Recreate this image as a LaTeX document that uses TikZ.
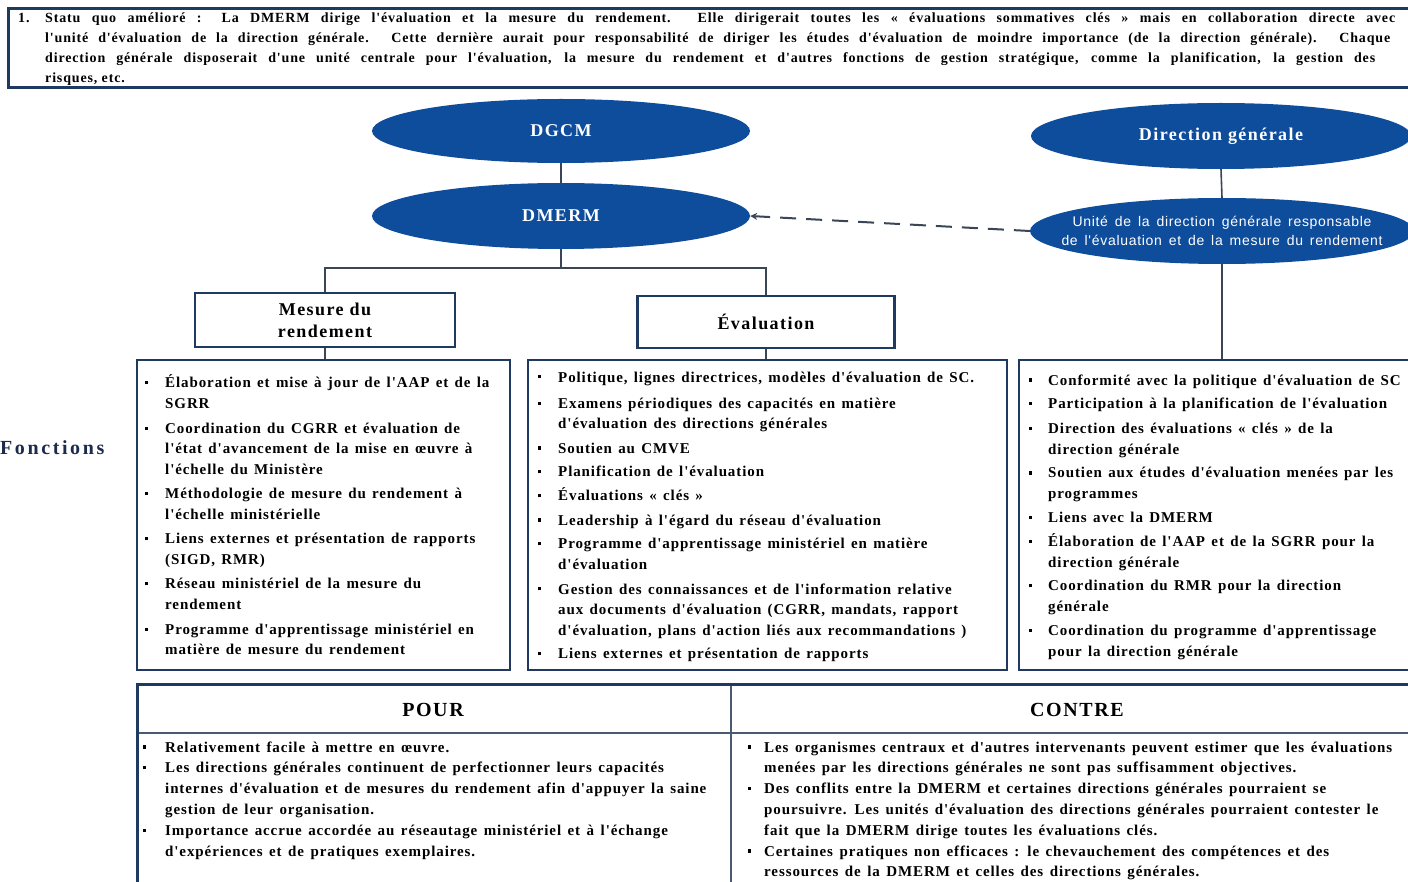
\documentclass[tikz,border=0pt]{standalone}
\usepackage{fontspec}
\setmainfont{Liberation Serif}
\newfontfamily\listfont[LetterSpace=6]{Liberation Serif}
\newfontfamily\topfont[LetterSpace=6]{Liberation Serif}
\newfontfamily\headfont[LetterSpace=8]{Liberation Serif}
\newfontfamily\foncfont[LetterSpace=13]{Liberation Serif}
\newfontfamily\unitfont[LetterSpace=5,WordSpace=1.5]{Liberation Sans}
\usetikzlibrary{shapes.geometric,arrows.meta}
\definecolor{ellblue}{HTML}{0E4C9C}
\definecolor{navy}{HTML}{1F3A60}
\definecolor{conncol}{HTML}{3A4656}
\definecolor{gridcol}{HTML}{4A5A70}
\definecolor{fonccol}{HTML}{1C2B4B}
\newcommand{\mybul}{\raisebox{3.5pt}{\rule{3.2pt}{3.2pt}}}
\newcommand{\listsetup}{\listfont\bfseries\fontsize{15}{20.5}\selectfont\spaceskip 6.3pt plus 1pt minus 1pt\relax}
\newcommand{\tabsetup}{\listfont\bfseries\fontsize{15}{20.8}\selectfont\spaceskip 6.5pt plus 1pt minus 1pt\relax}
\tikzset{
  ell/.style={ellipse, fill=ellblue, draw=none, inner sep=0pt, text=white},
  headbox/.style={draw=navy, line width=2.6pt, fill=white, inner sep=0pt, align=center,
    font=\headfont\bfseries\fontsize{18}{22}\selectfont},
  listbox/.style={draw=navy, line width=2.6pt, inner sep=0pt},
  conn/.style={draw=conncol, line width=1.6pt},
  listtext/.style={anchor=base west, inner sep=0pt, font=\listsetup},
  tabtext/.style={anchor=base west, inner sep=0pt, font=\tabsetup}
}
\begin{document}
\begin{tikzpicture}[x=1pt,y=-1pt]
\useasboundingbox (0,0) rectangle (1408,882);
\fill[white] (0,0) rectangle (1408,882);

% top statement box
\draw[navy, line width=3pt] (8,9) rectangle (1430,88);
\node[anchor=base west, inner sep=0pt, font=\topfont\bfseries\fontsize{14}{20}\selectfont] (num) at (18,23) {1.};
\node[anchor=base west, inner sep=0pt, font=\topfont\bfseries\fontsize{14}{20}\selectfont] (intro) at (45,23) {\begin{tabular}[t]{@{}l@{}}
\makebox[1350pt][s]{Statu quo amélioré : La DMERM dirige l'évaluation et la mesure du rendement. Elle dirigerait toutes les « évaluations sommatives clés » mais en collaboration directe avec}\\
\makebox[1345pt][s]{l'unité d'évaluation de la direction générale. Cette dernière aurait pour responsabilité de diriger les études d'évaluation de moindre importance (de la direction générale). Chaque}\\
\makebox[1330pt][s]{direction générale disposerait d'une unité centrale pour l'évaluation, la mesure du rendement et d'autres fonctions de gestion stratégique, comme la planification, la gestion des}\\
risques, etc.
\end{tabular}};

% ellipses
\node[ell, minimum width=378pt, minimum height=64pt, font=\headfont\bfseries\fontsize{18}{22}\selectfont] (dgcm) at (561,131) {DGCM};
\node[ell, minimum width=378pt, minimum height=66pt, font=\headfont\bfseries\fontsize{18}{22}\selectfont] (dmerm) at (561,216) {DMERM};
\node[ell, minimum width=380pt, minimum height=66pt, font=\headfont\bfseries\fontsize{18}{22}\selectfont] (dg) at (1221,136) {Direction générale};
\node[ell, minimum width=384pt, minimum height=66pt] (unit) at (1222,231) {};
\node[inner sep=0pt, text=white, align=center, font=\unitfont\fontsize{14}{19}\selectfont] (unittxt) at (unit.center) {Unité de la direction générale responsable\\de l'évaluation et de la mesure du rendement};

% header boxes
\node[headbox, minimum width=260pt, minimum height=54pt] (mes) at (325,320) {Mesure du\\rendement};
\node[headbox, minimum width=257pt, minimum height=52pt] (eva) at (766,322) {Évaluation};

% list boxes
\node[listbox, minimum width=373pt, minimum height=310pt] (lbox) at (323.5,515) {};
\node[listbox, minimum width=479pt, minimum height=310pt] (mbox) at (767.5,515) {};
\node[listbox, minimum width=396pt, minimum height=310pt] (rbox) at (1217,515) {};

% connectors
\coordinate (jn) at (561,268);
\draw[conn] (dgcm.south) -- (dmerm.north);
\draw[conn] (dmerm.south) -- (jn);
\draw[conn] (mes.north) |- (jn) -| (eva.north);
\draw[conn] (mes.south) -- (lbox.north -| mes.south);
\draw[conn] (eva.south) -- (mbox.north -| eva.south);
\draw[conn] (dg.south) -- (unit.north);
\draw[conn] (unit.south) -- (unit.south |- rbox.north);
\draw[conn, line width=2pt, dash pattern=on 16pt off 10pt, -{Stealth[length=7pt,width=7pt]}] (unit.west) -- (dmerm.east);

% Fonctions label
\node[anchor=west, inner sep=0pt, text=fonccol, font=\foncfont\bfseries\fontsize{20}{22}\selectfont] (fonc) at (0,448) {Fonctions};

% left list
\node[listtext] (ltext) at (145,388) {\begin{tabular}[t]{@{}p{20pt}@{}l@{}}
\mybul & Élaboration et mise à jour de l'AAP et de la\\
 & SGRR\\[4.5pt]
\mybul & Coordination du CGRR et évaluation de\\
 & l'état d'avancement de la mise en œuvre à\\
 & l'échelle du Ministère\\[4pt]
\mybul & Méthodologie de mesure du rendement à\\
 & l'échelle ministérielle\\[4pt]
\mybul & Liens externes et présentation de rapports\\
 & (SIGD, RMR)\\[4pt]
\mybul & Réseau ministériel de la mesure du\\
 & rendement\\[4.5pt]
\mybul & Programme d'apprentissage ministériel en\\
 & matière de mesure du rendement
\end{tabular}};

% middle list
\node[listtext] (mtext) at (538,382) {\begin{tabular}[t]{@{}p{20pt}@{}l@{}}
\mybul & Politique, lignes directrices, modèles d'évaluation de SC.\\[6pt]
\mybul & Examens périodiques des capacités en matière\\
 & d'évaluation des directions générales\\[3.5pt]
\mybul & Soutien au CMVE\\[3.5pt]
\mybul & Planification de l'évaluation\\[3.5pt]
\mybul & Évaluations « clés »\\[3.5pt]
\mybul & Leadership à l'égard du réseau d'évaluation\\[3.5pt]
\mybul & Programme d'apprentissage ministériel en matière\\
 & d'évaluation\\[4pt]
\mybul & Gestion des connaissances et de l'information relative\\
 & aux documents d'évaluation (CGRR, mandats, rapport\\
 & d'évaluation, plans d'action liés aux recommandations )\\[3.5pt]
\mybul & Liens externes et présentation de rapports
\end{tabular}};

% right list
\node[listtext] (rtext) at (1029,385) {\begin{tabular}[t]{@{}p{19pt}@{}l@{}}
\mybul & Conformité avec la politique d'évaluation de SC\\[3.5pt]
\mybul & Participation à la planification de l'évaluation\\[4pt]
\mybul & Direction des évaluations « clés » de la\\
 & direction générale\\[3.5pt]
\mybul & Soutien aux études d'évaluation menées par les\\
 & programmes\\[3.5pt]
\mybul & Liens avec la DMERM\\[3.5pt]
\mybul & Élaboration de l'AAP et de la SGRR pour la\\
 & direction générale\\[3.5pt]
\mybul & Coordination du RMR pour la direction\\
 & générale\\[4pt]
\mybul & Coordination du programme d'apprentissage\\
 & pour la direction générale
\end{tabular}};

% bottom table
\draw[gridcol, line width=1.2pt] (137,733) -- (1430,733);
\draw[gridcol, line width=1.2pt] (731,684) -- (731,900);
\draw[navy, line width=3pt] (137,900) -- (137,684) -- (1430,684);
\node[inner sep=0pt, font=\headfont\bfseries\fontsize{20}{24}\selectfont] (pour) at (433,710) {POUR};
\node[inner sep=0pt, font=\headfont\bfseries\fontsize{20}{24}\selectfont] (contre) at (1077,710) {CONTRE};

\node[tabtext] (ptext) at (143,752) {\begin{tabular}[t]{@{}p{22pt}@{}l@{}}
\mybul & Relativement facile à mettre en œuvre.\\
\mybul & Les directions générales continuent de perfectionner leurs capacités\\
 & internes d'évaluation et de mesures du rendement afin d'appuyer la saine\\
 & gestion de leur organisation.\\
\mybul & Importance accrue accordée au réseautage ministériel et à l'échange\\
 & d'expériences et de pratiques exemplaires.
\end{tabular}};

\node[tabtext] (ctext) at (748,752) {\begin{tabular}[t]{@{}p{16pt}@{}l@{}}
\mybul & Les organismes centraux et d'autres intervenants peuvent estimer que les évaluations\\
 & menées par les directions générales ne sont pas suffisamment objectives.\\
\mybul & Des conflits entre la DMERM et certaines directions générales pourraient se\\
 & poursuivre. Les unités d'évaluation des directions générales pourraient contester le\\
 & fait que la DMERM dirige toutes les évaluations clés.\\
\mybul & Certaines pratiques non efficaces : le chevauchement des compétences et des\\
 & ressources de la DMERM et celles des directions générales.
\end{tabular}};
\end{tikzpicture}
\end{document}
